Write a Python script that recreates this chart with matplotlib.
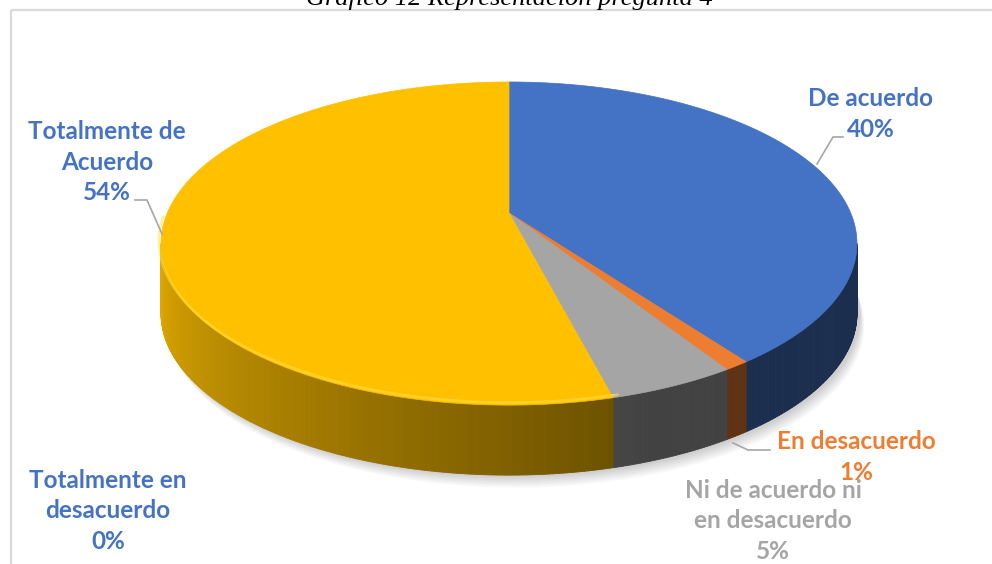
import numpy as np
import matplotlib.pyplot as plt
from matplotlib.patches import Rectangle, Polygon
from matplotlib.collections import PolyCollection
import matplotlib.colors as mcolors

# data (Excel pie order, clockwise from 12 o'clock)
categorias = ['De acuerdo', 'En desacuerdo', 'Ni de acuerdo ni\nen desacuerdo',
              'Totalmente de\nAcuerdo', 'Totalmente en\ndesacuerdo']
porcentajes = [40, 1, 5, 54, 0]
colores = ['#4472C4', '#ED7D31', '#A5A5A5', '#FFC000', '#5B9BD5']
color_etiqueta = ['#4472C4', '#ED7D31', '#A5A5A5', '#4472C4', '#4472C4']
titulo = 'Gráfico 12 Representación pregunta 4'

# layout of the fake 3d pie (pixel space)
CX, CY = 509, 213      # apex of the slices
A, B = 341.7, 155.8    # radii
K = 0.189              # perspective strength
D = 70                 # thickness of the pie

# label positions (centre of text block) and leader lines
pos_etiqueta = [(871, 114), (856, 457), (773, 521), (107, 162), (108, 511)]
guias = [[(817, 164), (833, 137), (843, 137)],
         [(733, 443), (748, 450), (770, 450)],
         None,
         [(162, 234), (147, 200), (135, 200)],
         None]


def proj(t, drop=0.0):
    u = np.sin(t)
    v = -np.cos(t)
    s = 1.0 / (1.0 - K * v)
    return CX + A * u * s, CY + B * v * s + drop


def shade(t):
    # brightness of the side wall, light comes from the left
    deg = np.degrees(t)
    return np.interp(deg, [100, 160, 259], [0.40, 0.40, 0.88])


fig = plt.figure(figsize=(9.92, 5.64), dpi=100)
ax = fig.add_axes([0, 0, 1, 1])
ax.set_xlim(0, 992)
ax.set_ylim(564, 0)
ax.axis('off')

# chart frame
ax.add_patch(Rectangle((10.5, 9.5), 1000, 600, fill=False, ec='#D9D9D9', lw=1.6))

ax.text(509, 5, titulo, family='Liberation Serif', style='italic', fontsize=19,
        ha='center', va='baseline', color='black')

total = float(sum(porcentajes))
bordes = np.concatenate([[0], np.cumsum(porcentajes)]) / total * 2 * np.pi
tR = np.pi / 2 + np.arcsin(K)
tL = 3 * np.pi / 2 - np.arcsin(K)

# soft shadow under the pie
tt = np.linspace(tR - 0.3, tL + 0.3, 200)
for i in range(8):
    xs, ys = proj(tt, D + 2 + i * 1.5)
    xs = xs + 3 + i * 0.6
    sh = Polygon(np.column_stack([np.r_[xs, CX], np.r_[ys, CY + D]]),
                 closed=True, fc='#000000', ec='none', alpha=0.022)
    ax.add_patch(sh)

# side walls
for k in range(len(porcentajes)):
    if porcentajes[k] <= 0:
        continue
    lo = max(bordes[k], tR)
    hi = min(bordes[k + 1], tL)
    if lo >= hi:
        continue
    ts = np.linspace(lo, hi, max(int(np.degrees(hi - lo) * 2), 2) + 1)
    base = np.array(mcolors.to_rgb(colores[k]))
    quads, cols = [], []
    for t0, t1 in zip(ts[:-1], ts[1:]):
        x0, y0 = proj(t0)
        x1, y1 = proj(t1)
        x2, y2 = proj(t1, D)
        x3, y3 = proj(t0, D)
        quads.append([(x0, y0), (x1, y1), (x2, y2), (x3, y3)])
        cols.append(np.clip(base * shade(0.5 * (t0 + t1)), 0, 1))
    ax.add_collection(PolyCollection(quads, facecolors=cols, edgecolors=cols, linewidths=0.6))

# top faces
for k in range(len(porcentajes)):
    if porcentajes[k] <= 0:
        continue
    ts = np.linspace(bordes[k], bordes[k + 1], 200)
    xs, ys = proj(ts)
    pts = np.column_stack([np.r_[CX, xs], np.r_[CY, ys]])
    ax.add_patch(Polygon(pts, closed=True, fc=colores[k], ec=colores[k], lw=0.5))

# bevel highlight along the lit front rim
for k in range(len(porcentajes)):
    if porcentajes[k] <= 0:
        continue
    lo = max(bordes[k], np.radians(165))
    hi = min(bordes[k + 1], tL + 0.15)
    if lo >= hi:
        continue
    ts = np.linspace(lo, hi, 100)
    xs, ys = proj(ts)
    ax.plot(xs + 2 * np.sin(ts), ys - 2.5, color='#FFE34D', lw=2.0, alpha=0.5,
            solid_capstyle='round')

# labels
for k in range(len(categorias)):
    x, y = pos_etiqueta[k]
    ax.text(x, y, f'{categorias[k]}\n{porcentajes[k]}%', ha='center', va='center',
            family='Lato', weight='bold', fontsize=17.5, linespacing=1.38,
            color=color_etiqueta[k])
    if guias[k] is not None:
        gx, gy = zip(*guias[k])
        ax.plot(gx, gy, color='#A6A6A6', lw=1.2)

fig.savefig('out.png', dpi=100)
